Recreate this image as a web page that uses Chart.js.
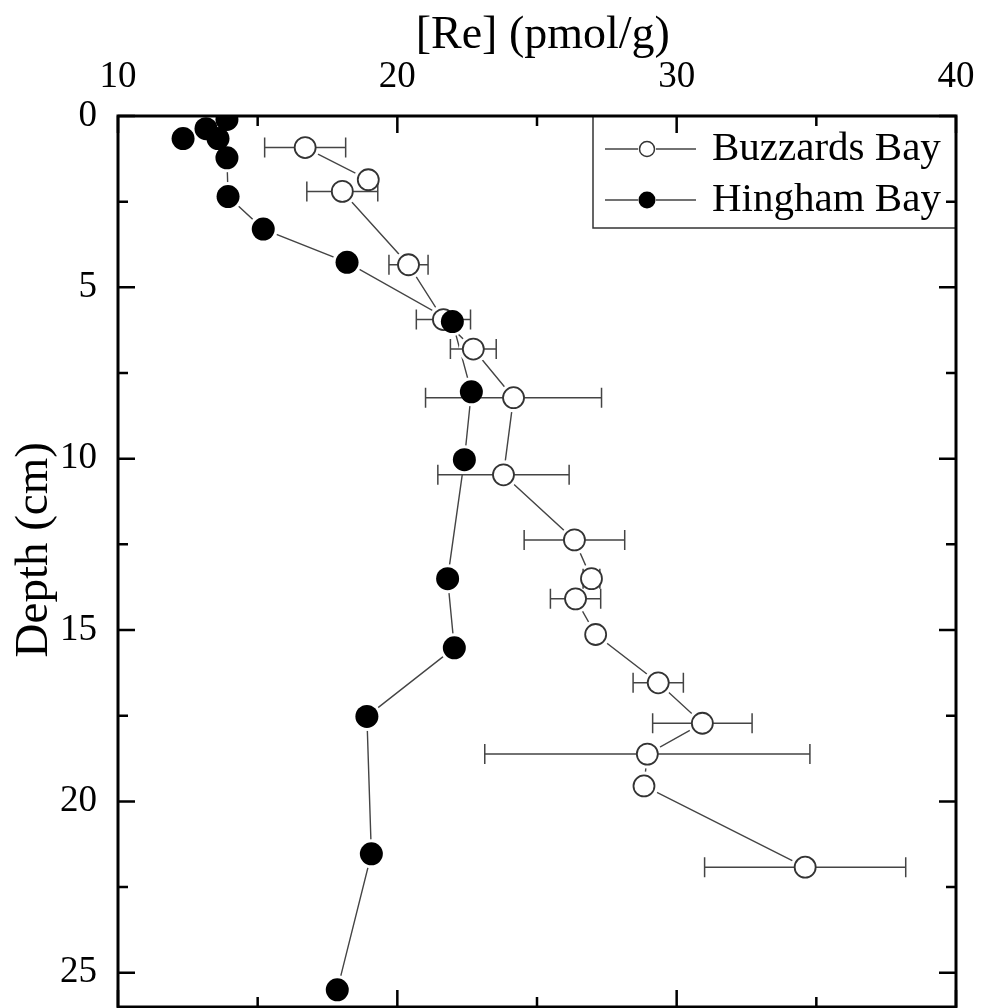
<!DOCTYPE html>
<html>
<head>
<meta charset="utf-8">
<script src="https://cdn.jsdelivr.net/npm/chart.js@4"></script>
<style>
  html, body { margin: 0; padding: 0; background: #fff; }
</style>
</head>
<body>
<canvas id="reChart" width="981" height="1008"></canvas>
<script>
const seriesNames = ["Buzzards Bay", "Hingham Bay"];

// Buzzards Bay core: depth (cm), [Re] (pmol/g), +/- error
const buzzDepth = [0.92, 1.86, 2.2, 4.34, 5.94, 6.8, 8.22, 10.47, 12.37, 13.5, 14.09, 15.13, 16.54, 17.72, 18.62, 19.55, 21.92];
const buzzRe    = [16.7, 18.96, 18.03, 20.4, 21.65, 22.72, 24.16, 23.8, 26.34, 26.95, 26.38, 27.1, 29.34, 30.92, 28.95, 28.83, 34.6];
const buzzErr   = [1.45, 0, 1.27, 0.7, 0.97, 0.82, 3.15, 2.35, 1.8, 0.3, 0.9, 0, 0.9, 1.78, 5.82, 0, 3.6];

// Hingham Bay core: depth (cm), [Re] (pmol/g)
const hingDepth = [0.1, 0.37, 0.66, 0.66, 1.22, 2.35, 3.3, 4.27, 6.0, 8.05, 10.03, 13.5, 15.52, 17.52, 21.53, 25.5];
const hingRe    = [13.9, 13.15, 12.33, 13.58, 13.9, 13.94, 15.2, 18.2, 21.97, 22.65, 22.4, 21.8, 22.04, 18.91, 19.07, 17.85];

// axis ticks
const reTicks = [10, 20, 30, 40];
const reMinorTicks = [15, 25, 35];
const depthTicks = [0, 5, 10, 15, 20, 25];
const depthMinorTicks = [2.5, 7.5, 12.5, 17.5, 22.5];

const SERIF = "'Liberation Serif', 'Times New Roman', serif";

function toPoints(xs, ys) {
    return xs.map((x, i) => ({x: x, y: ys[i]}));
}

// Horizontal error bars, drawn just before the open markers so the circles sit on top
const errorBars = {
    id: 'errorBars',
    beforeDatasetDraw(chart, args) {
        if (args.index !== 4) return;
        const {ctx, chartArea: a, scales: {x, y}} = chart;
        ctx.save();
        ctx.beginPath();
        ctx.rect(a.left, a.top, a.width, a.height);
        ctx.clip();
        ctx.strokeStyle = '#444';
        ctx.lineWidth = 1.5;
        buzzErr.forEach((e, i) => {
            if (!e) return;
            const py = y.getPixelForValue(buzzDepth[i]);
            const x0 = x.getPixelForValue(buzzRe[i] - e);
            const x1 = x.getPixelForValue(buzzRe[i] + e);
            ctx.beginPath();
            ctx.moveTo(x0, py); ctx.lineTo(x1, py);
            ctx.moveTo(x0, py - 10); ctx.lineTo(x0, py + 10);
            ctx.moveTo(x1, py - 10); ctx.lineTo(x1, py + 10);
            ctx.stroke();
        });
        ctx.restore();
    }
};

// Boxed legend in the top right corner, then the frame with inward ticks on all sides
const frameAndLegend = {
    id: 'frameAndLegend',
    afterDatasetsDraw(chart) {
        const {ctx, chartArea: a, scales: {x, y}} = chart;

        // legend
        const w = 363, h = 112;
        const left = a.right - w, top = a.top;
        ctx.save();
        ctx.fillStyle = '#fff';
        ctx.fillRect(left, top, w, h);
        ctx.strokeStyle = '#333';
        ctx.lineWidth = 1.5;
        ctx.strokeRect(left, top, w, h);
        seriesNames.forEach((name, i) => {
            const cy = top + 33 + i * 51;
            ctx.strokeStyle = '#444';
            ctx.lineWidth = 1.5;
            ctx.beginPath();
            ctx.moveTo(left + 12, cy); ctx.lineTo(left + 45, cy);
            ctx.moveTo(left + 63, cy); ctx.lineTo(left + 103, cy);
            ctx.stroke();
            ctx.beginPath();
            ctx.arc(left + 54, cy, i === 0 ? 7.5 : 8.5, 0, Math.PI * 2);
            if (i === 0) {
                ctx.fillStyle = '#fff';
                ctx.fill();
                ctx.strokeStyle = '#333';
                ctx.stroke();
            } else {
                ctx.fillStyle = '#000';
                ctx.fill();
            }
            ctx.fillStyle = '#000';
            ctx.font = '41px ' + SERIF;
            ctx.textBaseline = 'middle';
            ctx.textAlign = 'left';
            ctx.fillText(name, left + 119, cy);
        });

        // frame
        ctx.strokeStyle = '#000';
        ctx.lineWidth = 3;
        ctx.strokeRect(a.left, a.top, a.width, a.height);

        // ticks pointing inward
        ctx.lineWidth = 2.5;
        ctx.beginPath();
        const xTick = (v, len) => {
            const px = x.getPixelForValue(v);
            ctx.moveTo(px, a.top); ctx.lineTo(px, a.top + len);
            ctx.moveTo(px, a.bottom); ctx.lineTo(px, a.bottom - len);
        };
        const yTick = (v, len) => {
            const py = y.getPixelForValue(v);
            ctx.moveTo(a.left, py); ctx.lineTo(a.left + len, py);
            ctx.moveTo(a.right, py); ctx.lineTo(a.right - len, py);
        };
        reTicks.forEach(v => xTick(v, 17));
        reMinorTicks.forEach(v => xTick(v, 10));
        depthTicks.forEach(v => yTick(v, 17));
        depthMinorTicks.forEach(v => yTick(v, 10));
        ctx.stroke();
        ctx.restore();
    }
};

const buzzPts = toPoints(buzzRe, buzzDepth);
const hingPts = toPoints(hingRe, hingDepth);

new Chart(document.getElementById('reChart'), {
    type: 'scatter',
    data: {
        datasets: [
            // 0,1: connecting lines
            {label: seriesNames[0], data: buzzPts, showLine: true, borderColor: '#444', borderWidth: 1.4, pointRadius: 0, order: 5, clip: 0},
            {label: seriesNames[1], data: hingPts, showLine: true, borderColor: '#444', borderWidth: 1.4, pointRadius: 0, order: 5, clip: 0},
            // 2,3: white halos that open a small gap in the lines around markers
            {label: 'gap', data: buzzPts, showLine: false, pointRadius: 14.5, pointBackgroundColor: '#fff', pointBorderWidth: 0, order: 4, clip: 0},
            {label: 'gap', data: hingPts, showLine: false, pointRadius: 14.5, pointBackgroundColor: '#fff', pointBorderWidth: 0, order: 4, clip: 0},
            // 4,5: markers
            {label: seriesNames[0], data: buzzPts, showLine: false, pointRadius: 10.5, pointBackgroundColor: '#fff', pointBorderColor: '#333', pointBorderWidth: 1.8, order: 2, clip: 0},
            {label: seriesNames[1], data: hingPts, showLine: false, pointRadius: 11.5, pointBackgroundColor: '#000', pointBorderColor: '#000', pointBorderWidth: 0, order: 1, clip: 0}
        ]
    },
    options: {
        responsive: false,
        animation: false,
        events: [],
        layout: {autoPadding: false, padding: {left: 0, right: 25, top: 0, bottom: 1}},
        plugins: {
            legend: {display: false},
            tooltip: {enabled: false}
        },
        scales: {
            x: {
                type: 'linear',
                position: 'top',
                min: 10,
                max: 40,
                afterBuildTicks: s => { s.ticks = reTicks.map(v => ({value: v})); },
                afterFit: s => { s.height = 116; s.paddingLeft = 0; s.paddingRight = 0; },
                grid: {display: false, drawTicks: false},
                border: {display: false},
                ticks: {font: {family: SERIF, size: 37}, color: '#000', padding: 17, maxRotation: 0},
                title: {display: true, text: ' [Re] (pmol/g)', font: {family: SERIF, size: 46}, color: '#000', padding: {top: 8, bottom: 0}}
            },
            y: {
                type: 'linear',
                reverse: true,
                min: 0,
                max: 26,
                afterBuildTicks: s => { s.ticks = depthTicks.map(v => ({value: v})); },
                afterFit: s => { s.width = 118; s.paddingTop = 0; s.paddingBottom = 0; },
                grid: {display: false, drawTicks: false},
                border: {display: false},
                ticks: {font: {family: SERIF, size: 37}, color: '#000', padding: 21},
                title: {display: true, text: '  Depth (cm)', font: {family: SERIF, size: 47}, color: '#000', padding: {top: 6, bottom: 0}}
            }
        }
    },
    plugins: [errorBars, frameAndLegend]
});
</script>
</body>
</html>
